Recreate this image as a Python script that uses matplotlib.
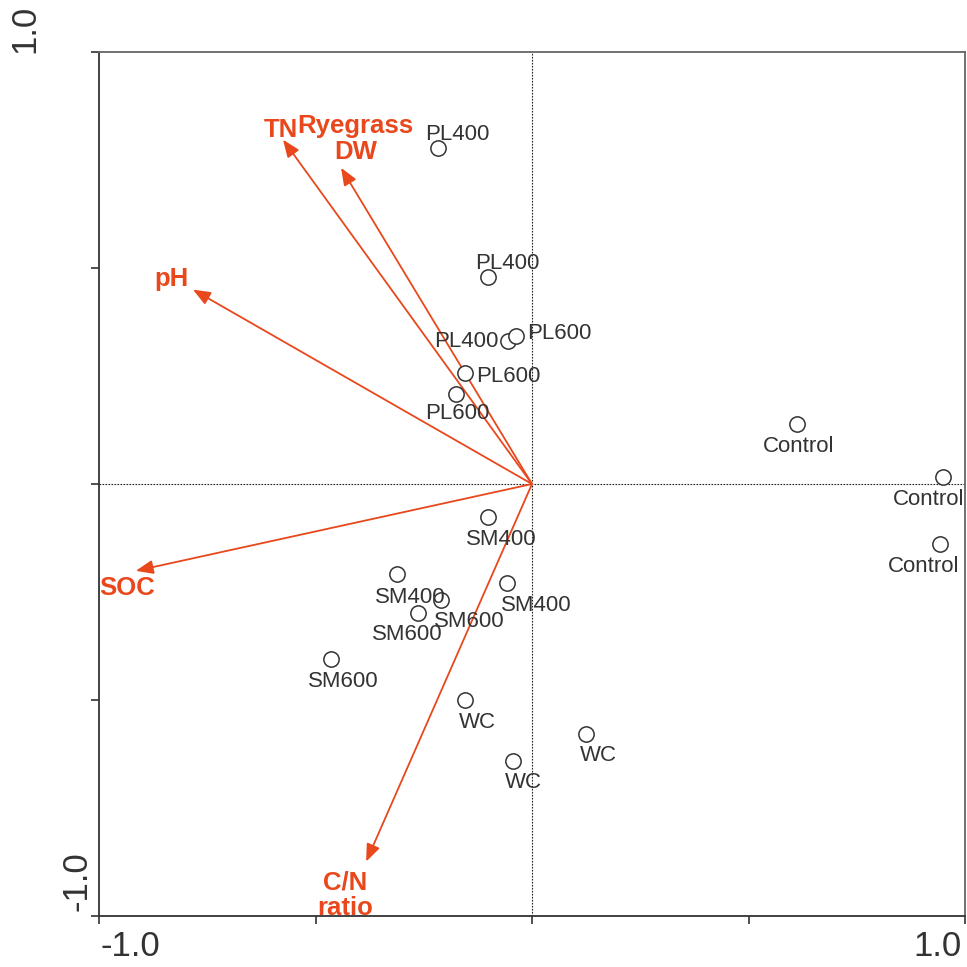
import matplotlib
matplotlib.use("Agg")
import matplotlib.pyplot as plt

plt.rcParams['font.family'] = ['Liberation Sans', 'DejaVu Sans']

# Sample scores
sample_labels = ["PL400", "PL400", "PL400", "PL600", "PL600", "PL600",
                 "Control", "Control", "Control",
                 "SM400", "SM400", "SM400", "SM600", "SM600", "SM600",
                 "WC", "WC", "WC"]
sample_x = [-0.217, -0.102, -0.055, -0.037, -0.155, -0.176,
            0.612, 0.949, 0.942,
            -0.102, -0.312, -0.058, -0.210, -0.263, -0.464,
            -0.155, 0.125, -0.044]
sample_y = [0.777, 0.479, 0.331, 0.342, 0.257, 0.208,
            0.139, 0.016, -0.139,
            -0.077, -0.209, -0.229, -0.269, -0.299, -0.405,
            -0.500, -0.579, -0.642]
# label offsets (data units) relative to the point
label_dx = [0.045, 0.045, -0.097, 0.100, 0.100, 0.003,
            0.003, -0.033, -0.037,
            0.032, 0.030, 0.067, 0.065, -0.025, 0.028,
            0.028, 0.028, 0.025]
label_dy = [0.031, 0.031, 0.000, 0.007, -0.007, -0.044,
            -0.053, -0.053, -0.053,
            -0.051, -0.053, -0.053, -0.050, -0.050, -0.053,
            -0.053, -0.050, -0.050]

# Environmental vectors
env_labels = ["TN", "Ryegrass\nDW", "pH", "SOC", "C/N\nratio"]
env_x = [-0.575, -0.441, -0.783, -0.915, -0.383]
env_y = [0.797, 0.732, 0.450, -0.201, -0.874]
env_lx = [-0.580, -0.408, -0.832, -0.935, -0.432]
env_ly = [0.819, 0.798, 0.475, -0.240, -0.952]

orange = "#E8481C"
dark = "#333333"

fig = plt.figure(figsize=(9.67, 9.67), dpi=100)
W = 967.0
ax = fig.add_axes([99 / W, 1 - 916 / W, (965 - 99) / W, (916 - 52) / W])
ax.set_xlim(-1, 1)
ax.set_ylim(-1, 1)

ax.axhline(0, color="#222222", lw=0.8, ls=(0, (1.5, 1.2)), zorder=1)
ax.axvline(0, color="#222222", lw=0.8, ls=(0, (1.5, 1.2)), zorder=1)

for x, y in zip(env_x, env_y):
    ax.annotate("", xy=(x, y), xytext=(0, 0),
                arrowprops=dict(arrowstyle="-|>,head_length=1.05,head_width=0.42",
                                color=orange, lw=1.3, shrinkA=0, shrinkB=0),
                zorder=2)
for lab, lx, ly in zip(env_labels, env_lx, env_ly):
    ax.text(lx, ly, lab, color=orange, fontsize=18.5, fontweight="bold",
            ha="center", va="center", linespacing=1.12, zorder=4)

ax.plot(sample_x, sample_y, ls="none", marker="o", ms=11, mfc="white",
        mec=dark, mew=1.1, zorder=3)
for lab, x, y, dx, dy in zip(sample_labels, sample_x, sample_y, label_dx, label_dy):
    ax.text(x + dx, y + dy, lab, color=dark, fontsize=16, ha="center",
            va="center", zorder=4)

ax.set_xticks([-1, -0.5, 0, 0.5, 1])
ax.set_yticks([-1, -0.5, 0, 0.5, 1])
ax.set_xticklabels([])
ax.set_yticklabels([])
ax.tick_params(direction="out", length=6, width=1.2, color=dark)
ax.yaxis.get_major_ticks()[-1].tick1line.set_color(orange)
for s in ["left", "bottom"]:
    ax.spines[s].set_color(dark)
    ax.spines[s].set_linewidth(1.3)
for s in ["top", "right"]:
    ax.spines[s].set_color("#666666")
    ax.spines[s].set_linewidth(1.3)

# axis end labels
fig.text(100 / W, 1 - 947 / W, "-1.0", fontsize=25, color=dark, ha="left", va="center")
fig.text(962 / W, 1 - 947 / W, "1.0", fontsize=25, color=dark, ha="right", va="center")
fig.text(25 / W, 1 - 53 / W, "1.0", fontsize=25, color=dark, rotation=90,
         ha="center", va="bottom")
fig.text(77 / W, 1 - 911 / W, "-1.0", fontsize=25, color=dark, rotation=90,
         ha="center", va="bottom")

fig.savefig("out.png", dpi=100)
